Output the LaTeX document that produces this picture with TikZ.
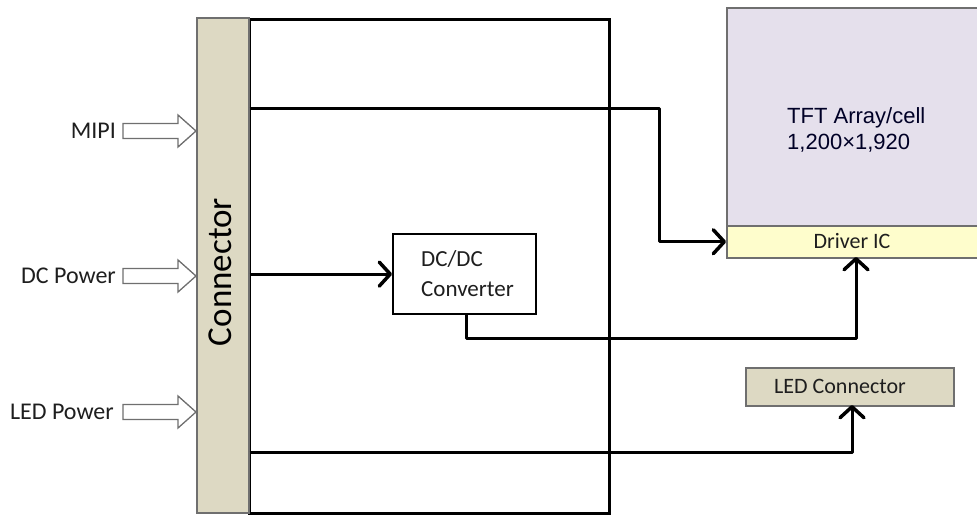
\documentclass[tikz,border=0pt]{standalone}
\usepackage{fontspec}
\setmainfont{Carlito}
\newfontfamily\arialf{Liberation Sans}
\usetikzlibrary{arrows.meta}
\definecolor{tan}{HTML}{DDD9C3}
\definecolor{lav}{HTML}{E5E0EC}
\definecolor{ylw}{HTML}{FEFDCC}
\definecolor{txt}{HTML}{1E1E1E}
\definecolor{edge}{HTML}{6F6F6F}
\begin{document}
\begin{tikzpicture}[x=1pt,y=-1pt,
  wire/.style={line width=3pt,black,line join=round,
    -{Straight Barb[length=11pt,width=24pt,line width=3.5pt,round]}},
  box/.style={rectangle,inner sep=0pt,anchor=north west},
  lbl/.style={font=\fontsize{24}{28}\selectfont,text=txt,inner sep=0pt},
  blockarrow/.style={draw=edge,fill=white,line width=1.3pt,line join=miter}]
\useasboundingbox (0,0) rectangle (977,515);
% board outline
\node[box,draw=black,line width=3pt,minimum width=360pt,minimum height=494pt] (board) at (248,18) {};
% connector bar
\node[box,draw=edge,fill=tan,line width=1.5pt,minimum width=52pt,minimum height=495pt] (conn) at (196,17) {};
\node[rotate=90,font=\fontsize{35}{40}\selectfont,text=black,inner sep=0pt] (conntxt) at (220,272) {Connector};
% TFT
\node[box,draw=edge,fill=lav,line width=1.5pt,minimum width=300pt,minimum height=250pt] (tft) at (726,7) {};
\node[box,draw=edge,fill=ylw,line width=1.5pt,minimum width=300pt,minimum height=32pt] (drv) at (726,225) {};
\node[anchor=west,align=left,inner sep=0pt,font=\arialf\fontsize{22}{26}\selectfont,text=black!85!blue] (tfttxt) at (787,130) {TFT Array/cell\\1,200×1,920};
\node[font=\fontsize{22}{26}\selectfont,text=txt,inner sep=0pt] (drvtxt) at (852,241) {Driver IC};
% LED connector
\node[box,draw=edge,fill=tan,line width=1.5pt,minimum width=208pt,minimum height=38pt] (ledc) at (745,367) {};
\node[font=\fontsize{22}{26}\selectfont,text=txt,inner sep=0pt] (ledtxt) at (840,386) {LED Connector};
% DC/DC
\node[box,draw=black,fill=white,line width=2.2pt,minimum width=143pt,minimum height=80pt] (dcdc) at (392,233) {};
\node[anchor=west,align=left,inner sep=0pt,font=\fontsize{23}{30}\selectfont,text=txt] (dcdctxt) at (421,274) {DC/DC\\Converter};
% input labels
\node[lbl,anchor=east] (mipi) at (116,131) {MIPI};
\node[lbl,anchor=east] (dcp) at (116,276) {DC Power};
\node[lbl,anchor=east] (ledp) at (114,412) {LED Power};
% block arrows
\foreach \yy in {131,276,412}{
  \draw[blockarrow] (123,\yy-7.5) -- (178,\yy-7.5) -- (178,\yy-16) -- (196,\yy) -- (178,\yy+16) -- (178,\yy+7.5) -- (123,\yy+7.5) -- cycle;
}
% wires
\draw[wire] (conn.east |- 0,108) -- (659,108) |- (drv.west);
\draw[wire] (conn.east |- dcdc.west) -- (dcdc.west);
\draw[wire] (466,313) |- (856,338) -- (856,257);
\draw[wire] (conn.east |- 0,452) -| (852,405);
\end{tikzpicture}
\end{document}
